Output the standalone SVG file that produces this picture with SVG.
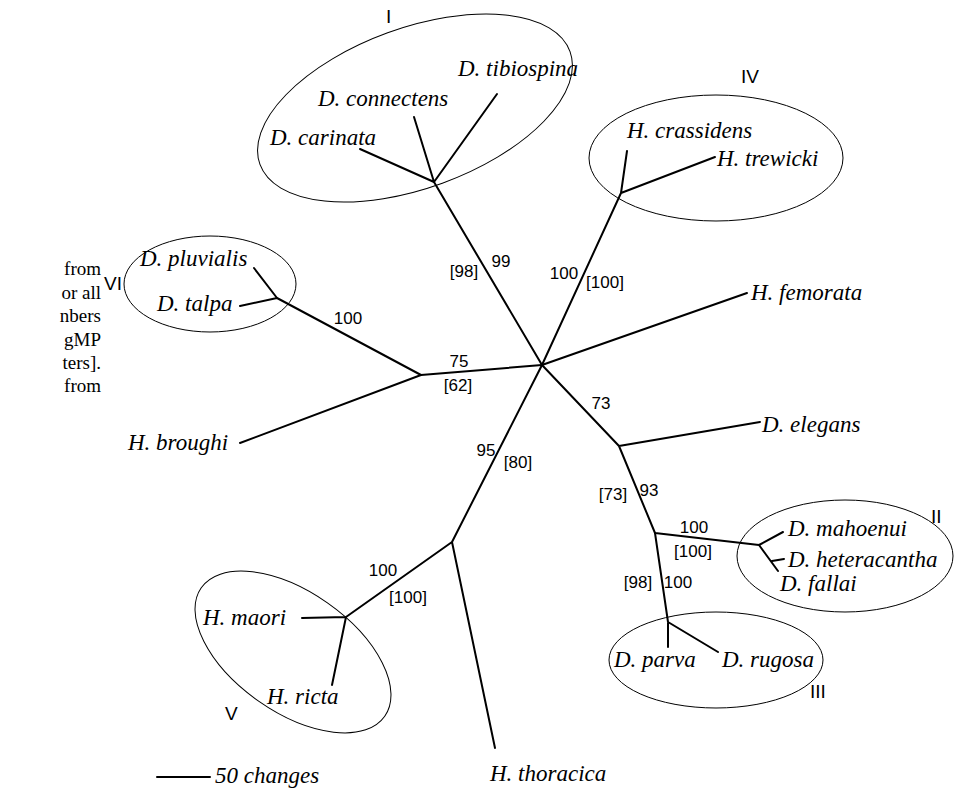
<svg xmlns="http://www.w3.org/2000/svg" width="961" height="794" viewBox="0 0 961 794">
<style>
.br{stroke:#000;stroke-width:2;fill:none;stroke-linecap:round;stroke-linejoin:round}
.cl{stroke:#000;stroke-width:1;fill:none}
.sp{font-family:"Liberation Serif","Times New Roman",serif;font-style:italic;font-size:23px;fill:#000}
.bs{font-family:"Liberation Sans",Arial,sans-serif;font-size:17px;fill:#000}
.rn{font-family:"Liberation Sans",Arial,sans-serif;font-size:19px;fill:#000}
.cap{font-family:"Liberation Serif","Times New Roman",serif;font-size:19px;fill:#000}
</style>
<rect width="961" height="794" fill="#fff"/>
<g id="caption">
<text class="cap" x="101" y="275" text-anchor="end">from</text>
<text class="cap" x="101" y="299" text-anchor="end">or all</text>
<text class="cap" x="101" y="322" text-anchor="end">nbers</text>
<text class="cap" x="101" y="346" text-anchor="end">gMP</text>
<text class="cap" x="101" y="369" text-anchor="end">ters].</text>
<text class="cap" x="101" y="392" text-anchor="end">from</text>
</g>
<g id="connectors">
<path class="br" d="M542,365 L434,182"/>
<path class="br" d="M434,182 L360,149 M434,182 L414,117 M434,182 L497,94"/>
<path class="br" d="M542,365 L621,193 L627,151 M621,193 L715,157"/>
<path class="br" d="M542,365 L747,293"/>
<path class="br" d="M542,365 L421,375 L277,298 L254,268 M277,298 L240,306 M421,375 L240,443"/>
<path class="br" d="M542,365 L619,446 L760,422 M619,446 L655,533 L759,545 L783,532 M759,545 L778,571 M772,561 L784,559"/>
<path class="br" d="M655,533 L668,622 L668,647 M668,622 L718,652"/>
<path class="br" d="M542,365 L452,542 L346,617 L302,618 M346,617 L332,685 M452,542 L495,748"/>
</g>
<g id="clusters">
<ellipse id="cl-I" class="cl" cx="415" cy="108" rx="165" ry="80" transform="rotate(-20 415 108)"/>
<ellipse id="cl-IV" class="cl" cx="716" cy="158" rx="127" ry="63"/>
<ellipse id="cl-VI" class="cl" cx="210" cy="284" rx="86" ry="48"/>
<ellipse id="cl-II" class="cl" cx="845" cy="556" rx="108" ry="56"/>
<ellipse id="cl-III" class="cl" cx="716" cy="660" rx="107" ry="48"/>
<ellipse id="cl-V" class="cl" cx="293" cy="652" rx="112" ry="60" transform="rotate(35 293 652)"/>
<text class="rn" x="386" y="23">I</text>
<text class="rn" x="741" y="83">IV</text>
<text class="rn" x="104" y="290">VI</text>
<text class="rn" x="931" y="523">II</text>
<text class="rn" x="810" y="698">III</text>
<text class="rn" x="225" y="720">V</text>
</g>
<g id="taxa">
<text id="t-tibiospina" class="sp" x="458" y="76">D. tibiospina</text>
<text id="t-connectens" class="sp" x="318" y="106">D. connectens</text>
<text id="t-carinata" class="sp" x="270" y="145">D. carinata</text>
<text id="t-crassidens" class="sp" x="627" y="138">H. crassidens</text>
<text id="t-trewicki" class="sp" x="717" y="166">H. trewicki</text>
<text id="t-femorata" class="sp" x="751" y="300">H. femorata</text>
<text id="t-pluvialis" class="sp" x="140" y="266">D. pluvialis</text>
<text id="t-talpa" class="sp" x="157" y="311">D. talpa</text>
<text id="t-broughi" class="sp" x="128" y="450">H. broughi</text>
<text id="t-elegans" class="sp" x="762" y="432">D. elegans</text>
<text id="t-mahoenui" class="sp" x="788" y="536">D. mahoenui</text>
<text id="t-heteracantha" class="sp" x="788" y="567">D. heteracantha</text>
<text id="t-fallai" class="sp" x="780" y="591">D. fallai</text>
<text id="t-parva" class="sp" x="614" y="667">D. parva</text>
<text id="t-rugosa" class="sp" x="722" y="667">D. rugosa</text>
<text id="t-maori" class="sp" x="203" y="625">H. maori</text>
<text id="t-ricta" class="sp" x="267" y="704">H. ricta</text>
<text id="t-thoracica" class="sp" x="490" y="781">H. thoracica</text>
</g>
<g id="support">
<text class="bs" x="464" y="277" text-anchor="middle">[98]</text>
<text class="bs" x="501" y="267" text-anchor="middle">99</text>
<text class="bs" x="564" y="279" text-anchor="middle">100</text>
<text class="bs" x="605" y="288" text-anchor="middle">[100]</text>
<text class="bs" x="348" y="324" text-anchor="middle">100</text>
<text class="bs" x="459" y="367" text-anchor="middle">75</text>
<text class="bs" x="458" y="391" text-anchor="middle">[62]</text>
<text class="bs" x="601" y="409" text-anchor="middle">73</text>
<text class="bs" x="486" y="456" text-anchor="middle">95</text>
<text class="bs" x="518" y="468" text-anchor="middle">[80]</text>
<text class="bs" x="613" y="500" text-anchor="middle">[73]</text>
<text class="bs" x="649" y="496" text-anchor="middle">93</text>
<text class="bs" x="694" y="533" text-anchor="middle">100</text>
<text class="bs" x="693" y="557" text-anchor="middle">[100]</text>
<text class="bs" x="638" y="588" text-anchor="middle">[98]</text>
<text class="bs" x="678" y="588" text-anchor="middle">100</text>
<text class="bs" x="383" y="576" text-anchor="middle">100</text>
<text class="bs" x="408" y="603" text-anchor="middle">[100]</text>
</g>
<g id="scale">
<line class="br" x1="157" y1="777" x2="210" y2="777" stroke-width="1"/>
<text class="sp" x="215" y="783" font-size="19">50 changes</text>
</g>
</svg>
